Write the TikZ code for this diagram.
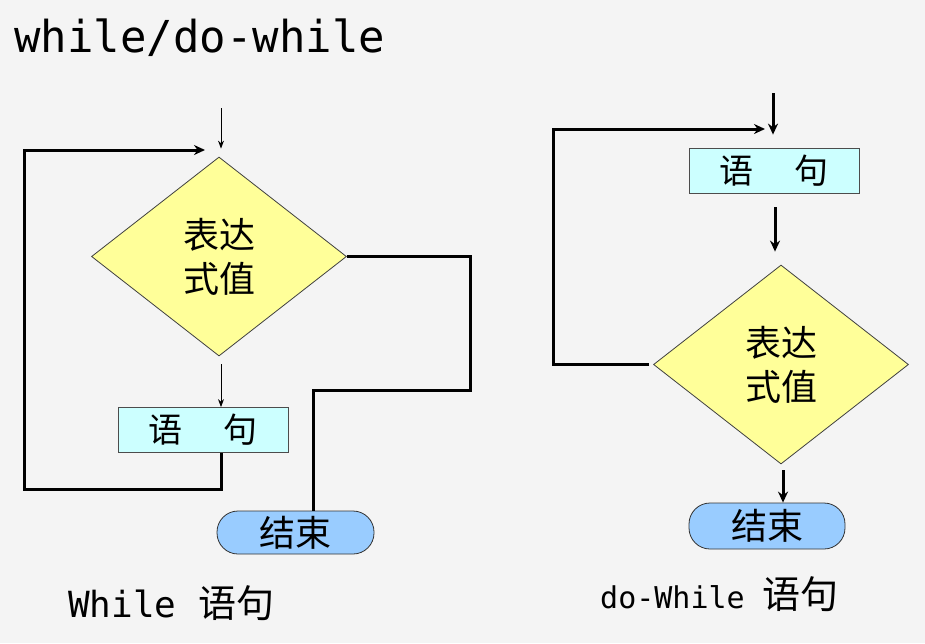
\documentclass[tikz,border=0pt]{standalone}
\usepackage{fontspec}
\setmonofont{DejaVu Sans Mono}
\newfontfamily\cjk{Noto Sans CJK SC}
\usetikzlibrary{shapes.geometric,arrows.meta}

\definecolor{bgc}{HTML}{F4F4F4}
\definecolor{condc}{HTML}{FFFF99}
\definecolor{stmtc}{HTML}{CCFFFF}
\definecolor{endc}{HTML}{99CCFF}

\begin{document}
\begin{tikzpicture}[x=1pt, y=-1pt,
    cond/.style={diamond, draw=black!75, line width=0.8pt, fill=condc,
      minimum width=255pt, minimum height=199pt, inner sep=0pt, align=center,
      font=\cjk\fontsize{36pt}{44pt}\selectfont},
    stmt/.style={rectangle, draw=black!70, line width=0.8pt, fill=stmtc,
      minimum width=170pt, minimum height=45pt, inner sep=0pt,
      font=\cjk\fontsize{34pt}{36pt}\selectfont},
    stop/.style={rectangle, rounded corners=21pt, draw=black!80, line width=0.8pt, fill=endc,
      minimum width=157pt, minimum height=43pt, inner sep=0pt,
      font=\cjk\fontsize{36pt}{40pt}\selectfont},
    thin/.style={line width=1pt, -{Stealth[length=8pt,width=6pt]}},
    thk/.style={line width=3pt},
    thkarr/.style={thk, -{Stealth[length=11pt,width=10pt]}}]

      \fill[bgc] (0,0) rectangle (925,643);
      \useasboundingbox (0,0) rectangle (925,643);

      \node[anchor=base west, inner sep=0pt, font=\ttfamily\fontsize{44pt}{48pt}\selectfont]
        (title) at (14,52) {while/do-while};

      % while
      \node[cond] (ld) at (219,256.5) {表达\\式值};
      \node[stmt] (lb) at (203,430) {语\hspace{1.2em}句};
      \node[stop] (le) at (295.5,532.5) {结束};

      \coordinate (lin) at (221,108);
      \coordinate (ltip) at (205,150);
      \coordinate (lret) at (24,489);
      \coordinate (lrt) at (470,390);

      \draw[thin, shorten >=8pt] (lin) -- (lin |- ld.north);
      \draw[thin, shorten <=8pt] (lin |- ld.south) -- (lin |- lb.north);
      \draw[thkarr] (lin |- lb.south) |- (lret) |- (ltip);
      \draw[thk] (ld.east) -| (lrt) -| ([xshift=17.5pt]le.north);

      \node[anchor=base west, inner sep=0pt] (lcap) at (68,617)
        {{\ttfamily\fontsize{36pt}{40pt}\selectfont While }{\cjk\fontsize{38pt}{40pt}\selectfont 语句}};

      % do-while
      \node[stmt] (rb) at (774,170.5) {语\hspace{1.2em}句};
      \node[cond] (rd) at (781,364.5) {表达\\式值};
      \node[stop, minimum width=156pt, minimum height=46pt] (re) at (767,526) {结束};

      \coordinate (rin) at (773,93);
      \coordinate (rtip) at (765,129);
      \coordinate (rl) at (553,370);

      \draw[thkarr, shorten >=13pt] (rin) -- (rin |- rb.north);
      \draw[thkarr, shorten <=14pt, shorten >=13pt] ([xshift=1pt]rb.south) -- ([xshift=1pt]rb.south |- rd.north);
      \draw[thkarr, shorten <=6pt] ([xshift=2pt]rd.south) -- ([xshift=2pt]rd.south |- re.north);
      \draw[thkarr] ([xshift=-4pt]rd.west) -- (rd.west -| rl) |- (rtip);

      \node[anchor=base west, inner sep=0pt] (rcap) at (600,608)
        {{\ttfamily\fontsize{30pt}{34pt}\selectfont do-While }{\cjk\fontsize{38pt}{40pt}\selectfont 语句}};

    \end{tikzpicture}
\end{document}
